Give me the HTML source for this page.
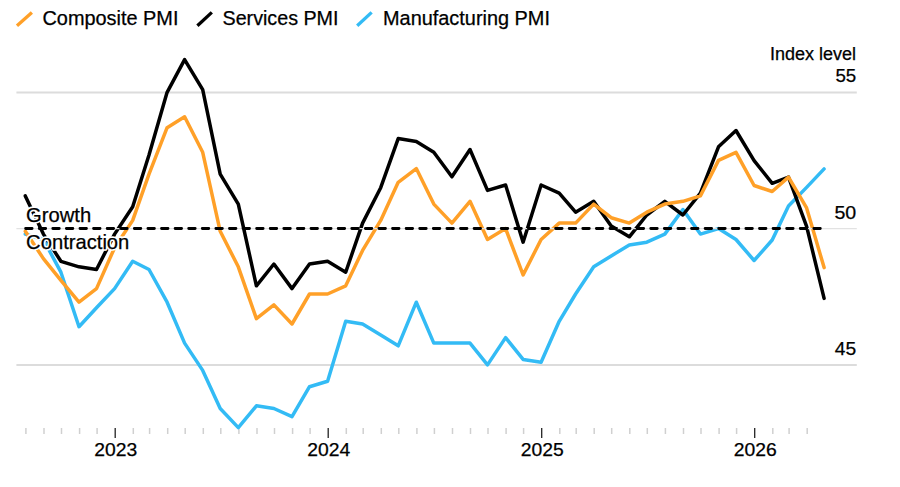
<!DOCTYPE html>
<html><head><meta charset="utf-8"><style>
html,body{margin:0;padding:0;background:#fff;width:900px;height:487px;overflow:hidden}
svg{display:block}
</style></head><body>
<svg width="900" height="487" viewBox="0 0 900 487">
<line x1="16.4" y1="92.4" x2="856.8" y2="92.4" stroke="#dcdcdc" stroke-width="2"/>
<line x1="16.4" y1="365" x2="856.8" y2="365" stroke="#dcdcdc" stroke-width="2"/>
<line x1="25.9" y1="428" x2="25.9" y2="434" stroke="#d0d0d0" stroke-width="1.5"/><line x1="44.0" y1="428" x2="44.0" y2="434" stroke="#d0d0d0" stroke-width="1.5"/><line x1="61.5" y1="428" x2="61.5" y2="434" stroke="#d0d0d0" stroke-width="1.5"/><line x1="79.6" y1="428" x2="79.6" y2="434" stroke="#d0d0d0" stroke-width="1.5"/><line x1="97.1" y1="428" x2="97.1" y2="434" stroke="#d0d0d0" stroke-width="1.5"/><line x1="115.2" y1="428" x2="115.2" y2="438" stroke="#222" stroke-width="1.3"/><line x1="133.3" y1="428" x2="133.3" y2="434" stroke="#d0d0d0" stroke-width="1.5"/><line x1="149.6" y1="428" x2="149.6" y2="434" stroke="#d0d0d0" stroke-width="1.5"/><line x1="167.7" y1="428" x2="167.7" y2="434" stroke="#d0d0d0" stroke-width="1.5"/><line x1="185.2" y1="428" x2="185.2" y2="434" stroke="#d0d0d0" stroke-width="1.5"/><line x1="203.3" y1="428" x2="203.3" y2="434" stroke="#d0d0d0" stroke-width="1.5"/><line x1="220.8" y1="428" x2="220.8" y2="434" stroke="#d0d0d0" stroke-width="1.5"/><line x1="238.9" y1="428" x2="238.9" y2="434" stroke="#d0d0d0" stroke-width="1.5"/><line x1="257.0" y1="428" x2="257.0" y2="434" stroke="#d0d0d0" stroke-width="1.5"/><line x1="274.5" y1="428" x2="274.5" y2="434" stroke="#d0d0d0" stroke-width="1.5"/><line x1="292.6" y1="428" x2="292.6" y2="434" stroke="#d0d0d0" stroke-width="1.5"/><line x1="310.1" y1="428" x2="310.1" y2="434" stroke="#d0d0d0" stroke-width="1.5"/><line x1="328.2" y1="428" x2="328.2" y2="438" stroke="#222" stroke-width="1.3"/><line x1="346.3" y1="428" x2="346.3" y2="434" stroke="#d0d0d0" stroke-width="1.5"/><line x1="363.2" y1="428" x2="363.2" y2="434" stroke="#d0d0d0" stroke-width="1.5"/><line x1="381.3" y1="428" x2="381.3" y2="434" stroke="#d0d0d0" stroke-width="1.5"/><line x1="398.8" y1="428" x2="398.8" y2="434" stroke="#d0d0d0" stroke-width="1.5"/><line x1="416.9" y1="428" x2="416.9" y2="434" stroke="#d0d0d0" stroke-width="1.5"/><line x1="434.4" y1="428" x2="434.4" y2="434" stroke="#d0d0d0" stroke-width="1.5"/><line x1="452.5" y1="428" x2="452.5" y2="434" stroke="#d0d0d0" stroke-width="1.5"/><line x1="470.5" y1="428" x2="470.5" y2="434" stroke="#d0d0d0" stroke-width="1.5"/><line x1="488.0" y1="428" x2="488.0" y2="434" stroke="#d0d0d0" stroke-width="1.5"/><line x1="506.1" y1="428" x2="506.1" y2="434" stroke="#d0d0d0" stroke-width="1.5"/><line x1="523.6" y1="428" x2="523.6" y2="434" stroke="#d0d0d0" stroke-width="1.5"/><line x1="541.7" y1="428" x2="541.7" y2="438" stroke="#222" stroke-width="1.3"/><line x1="559.8" y1="428" x2="559.8" y2="434" stroke="#d0d0d0" stroke-width="1.5"/><line x1="576.2" y1="428" x2="576.2" y2="434" stroke="#d0d0d0" stroke-width="1.5"/><line x1="594.2" y1="428" x2="594.2" y2="434" stroke="#d0d0d0" stroke-width="1.5"/><line x1="611.7" y1="428" x2="611.7" y2="434" stroke="#d0d0d0" stroke-width="1.5"/><line x1="629.8" y1="428" x2="629.8" y2="434" stroke="#d0d0d0" stroke-width="1.5"/><line x1="647.3" y1="428" x2="647.3" y2="434" stroke="#d0d0d0" stroke-width="1.5"/><line x1="665.4" y1="428" x2="665.4" y2="434" stroke="#d0d0d0" stroke-width="1.5"/><line x1="683.5" y1="428" x2="683.5" y2="434" stroke="#d0d0d0" stroke-width="1.5"/><line x1="701.0" y1="428" x2="701.0" y2="434" stroke="#d0d0d0" stroke-width="1.5"/><line x1="719.1" y1="428" x2="719.1" y2="434" stroke="#d0d0d0" stroke-width="1.5"/><line x1="736.6" y1="428" x2="736.6" y2="434" stroke="#d0d0d0" stroke-width="1.5"/><line x1="754.7" y1="428" x2="754.7" y2="438" stroke="#222" stroke-width="1.3"/><line x1="772.8" y1="428" x2="772.8" y2="434" stroke="#d0d0d0" stroke-width="1.5"/><line x1="789.1" y1="428" x2="789.1" y2="434" stroke="#d0d0d0" stroke-width="1.5"/><line x1="807.2" y1="428" x2="807.2" y2="434" stroke="#d0d0d0" stroke-width="1.5"/>
<g fill="none" stroke-width="3.5" stroke-linejoin="round" stroke-linecap="round">
<path d="M25.3,234.1 L43.4,239.5 L60.9,272.2 L79.0,326.7 L96.5,307.7 L114.6,288.6 L132.7,261.3 L149.0,269.5 L167.1,302.2 L184.6,343.1 L202.7,370.4 L220.2,408.5 L238.3,427.6 L256.4,405.8 L273.9,408.5 L292.0,416.7 L309.5,386.7 L327.6,381.3 L345.7,321.3 L362.6,324.0 L380.7,334.9 L398.2,345.8 L416.3,302.2 L433.8,343.1 L451.9,343.1 L470.0,343.1 L487.5,364.9 L505.6,337.6 L523.1,359.4 L541.1,362.2 L559.2,321.3 L575.6,294.0 L593.7,266.8 L611.2,255.9 L629.3,245.0 L646.8,242.2 L664.8,234.1 L682.9,209.5 L700.4,234.1 L718.5,228.6 L736.0,239.5 L754.1,260.5 L772.2,240.0 L788.5,206.0 L806.6,187.4 L824.1,168.9" stroke="#33bbf5"/>
<path d="M25.3,195.9 L43.4,234.1 L60.9,261.3 L79.0,266.8 L96.5,269.5 L114.6,234.1 L132.7,206.8 L149.0,155.0 L167.1,92.3 L184.6,59.6 L202.7,89.6 L220.2,174.1 L238.3,204.1 L256.4,285.8 L273.9,264.0 L292.0,288.6 L309.5,264.0 L327.6,261.3 L345.7,272.2 L362.6,223.1 L380.7,187.7 L398.2,138.6 L416.3,141.4 L433.8,152.3 L451.9,176.8 L470.0,149.5 L487.5,190.4 L505.6,185.0 L523.1,242.2 L541.1,185.0 L559.2,193.2 L575.6,212.2 L593.7,201.3 L611.2,225.9 L629.3,236.8 L646.8,215.0 L664.8,201.3 L682.9,215.0 L700.4,193.2 L718.5,146.8 L736.0,130.5 L754.1,160.7 L772.2,183.3 L788.5,177.1 L806.6,226.4 L824.1,298.4" stroke="#000"/>
<path d="M25.3,231.3 L43.4,258.6 L60.9,280.4 L79.0,302.2 L96.5,288.6 L114.6,247.7 L132.7,220.4 L149.0,174.1 L167.1,127.7 L184.6,116.8 L202.7,152.3 L220.2,231.3 L238.3,266.8 L256.4,318.6 L273.9,304.9 L292.0,324.0 L309.5,294.0 L327.6,294.0 L345.7,285.8 L362.6,250.4 L380.7,220.4 L398.2,182.3 L416.3,168.6 L433.8,204.1 L451.9,223.1 L470.0,201.3 L487.5,239.5 L505.6,228.6 L523.1,274.9 L541.1,239.5 L559.2,223.1 L575.6,223.1 L593.7,204.1 L611.2,217.7 L629.3,223.1 L646.8,212.2 L664.8,204.1 L682.9,201.3 L700.4,195.9 L718.5,160.4 L736.0,152.3 L754.1,185.5 L772.2,191.5 L788.5,177.1 L806.6,207.9 L824.1,267.6" stroke="#ffa028"/>
</g>
<line x1="16.4" y1="228.6" x2="856.8" y2="228.6" stroke="#e2e2e2" stroke-width="1.2"/>
<line x1="25.6" y1="228.5" x2="822" y2="228.5" stroke="#000" stroke-width="2.8" stroke-linecap="round" stroke-dasharray="6.5 7.09"/>
<g font-family="Liberation Sans, sans-serif" fill="#000" stroke="#000" stroke-width="0.25">
<line x1="17.0" y1="25.8" x2="31.9" y2="12.5" stroke="#ffa028" stroke-width="3.3"/>
<text x="42.5" y="24.9" font-size="19.9">Composite PMI</text>
<line x1="197.4" y1="25.8" x2="211.8" y2="12.4" stroke="#000" stroke-width="3.3"/>
<text x="222.5" y="24.9" font-size="19.7">Services PMI</text>
<line x1="357.2" y1="25.8" x2="371.6" y2="12.4" stroke="#33bbf5" stroke-width="3.3"/>
<text x="383" y="24.9" font-size="19.9">Manufacturing PMI</text>
<text x="856" y="60.2" font-size="18" text-anchor="end">Index level</text>
<g font-size="18.6" text-anchor="end" lengthAdjust="spacingAndGlyphs">
<text x="856.2" y="82.3" textLength="20.8" lengthAdjust="spacingAndGlyphs">55</text>
<text x="856.2" y="219.4" textLength="21.8" lengthAdjust="spacingAndGlyphs">50</text>
<text x="856.2" y="355.3" textLength="21.4" lengthAdjust="spacingAndGlyphs">45</text>
</g>
<g font-size="20.2" stroke="#fff" stroke-width="3.4" stroke-linejoin="round"><text x="26.1" y="221.8">Growth</text><text x="26.1" y="248.6">Contraction</text></g>
<text x="26.1" y="221.8" font-size="20.2">Growth</text>
<text x="26.1" y="248.6" font-size="20.2">Contraction</text>
<g font-size="18.6"><text x="115.7" y="455.8" text-anchor="middle" textLength="43" lengthAdjust="spacingAndGlyphs">2023</text><text x="328.7" y="455.8" text-anchor="middle" textLength="43" lengthAdjust="spacingAndGlyphs">2024</text><text x="542.2" y="455.8" text-anchor="middle" textLength="43" lengthAdjust="spacingAndGlyphs">2025</text><text x="755.2" y="455.8" text-anchor="middle" textLength="43" lengthAdjust="spacingAndGlyphs">2026</text></g>
</g>
</svg>
</body></html>
